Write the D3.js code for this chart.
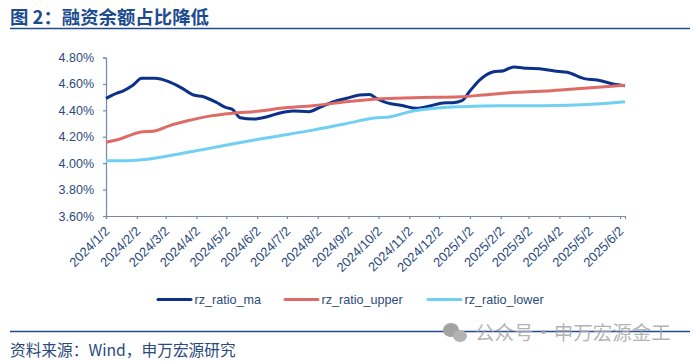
<!DOCTYPE html>
<html>
<head>
<meta charset="utf-8">
<script src="https://cdn.jsdelivr.net/npm/d3@7/dist/d3.min.js"></script>
<style>
  html, body { margin: 0; padding: 0; background: #fff; }
  svg { display: block; }
  text { font-family: "Liberation Sans", Arial, sans-serif; }
  .cjk { font-family: "Noto Sans CJK SC", "Liberation Sans", sans-serif; }
</style>
</head>
<body>
<div id="chart"></div>
<script>
const maDates = ["2024-01-02","2024-01-13","2024-01-19","2024-01-29","2024-02-07","2024-02-20","2024-03-05","2024-03-17","2024-03-30","2024-04-09","2024-04-22","2024-05-02","2024-05-08","2024-05-16","2024-05-29","2024-06-12","2024-06-25","2024-07-08","2024-07-24","2024-08-04","2024-08-18","2024-08-31","2024-09-13","2024-09-23","2024-09-30","2024-10-10","2024-10-27","2024-11-09","2024-11-23","2024-12-06","2024-12-16","2024-12-25","2025-01-02","2025-01-12","2025-01-25","2025-02-05","2025-02-15","2025-03-01","2025-03-13","2025-03-28","2025-04-10","2025-04-27","2025-05-10","2025-05-26","2025-06-07"];
const maValues = [4.49,4.53,4.546,4.59,4.642,4.642,4.617,4.574,4.516,4.503,4.46,4.42,4.408,4.344,4.334,4.352,4.38,4.395,4.39,4.423,4.465,4.491,4.516,4.52,4.491,4.458,4.435,4.415,4.433,4.456,4.458,4.473,4.546,4.63,4.69,4.70,4.728,4.718,4.715,4.698,4.688,4.64,4.63,4.60,4.586];

const upperDates = ["2024-01-02","2024-01-16","2024-02-05","2024-02-20","2024-03-06","2024-03-23","2024-04-18","2024-05-08","2024-06-05","2024-06-25","2024-07-28","2024-08-31","2024-09-30","2024-11-06","2024-12-24","2025-01-15","2025-02-18","2025-03-25","2025-04-27","2025-06-07"];
const upperValues = [4.158,4.183,4.234,4.244,4.284,4.319,4.36,4.378,4.395,4.415,4.435,4.465,4.486,4.496,4.503,4.516,4.537,4.549,4.567,4.59];

const lowerDates = ["2024-01-02","2024-01-23","2024-02-22","2024-03-19","2024-04-15","2024-05-08","2024-06-05","2024-06-25","2024-07-28","2024-08-31","2024-09-30","2024-10-10","2024-11-06","2024-12-03","2024-12-24","2025-01-15","2025-03-07","2025-04-10","2025-05-13","2025-06-07"];
const lowerValues = [4.019,4.019,4.04,4.075,4.112,4.145,4.183,4.208,4.25,4.30,4.344,4.347,4.395,4.42,4.428,4.433,4.435,4.438,4.45,4.465];

const tickDates = ["2024-01-02","2024-02-02","2024-03-02","2024-04-02","2024-05-02","2024-06-02","2024-07-02","2024-08-02","2024-09-02","2024-10-02","2024-11-02","2024-12-02","2025-01-02","2025-02-02","2025-03-02","2025-04-02","2025-05-02","2025-06-02"];
const yTicks = [3.6, 3.8, 4.0, 4.2, 4.4, 4.6, 4.8];

const seriesNames = ["rz_ratio_ma", "rz_ratio_upper", "rz_ratio_lower"];
const seriesColors = ["#0b3189", "#dd6b66", "#6fd0f2"];

const width = 694, height = 361;
const parseDate = d3.timeParse("%Y-%m-%d");
const inkColor = "#2b4a7c", axisColor = "#7488ab", ruleColor = "#1f4a8f";

const svg = d3.select("#chart").append("svg")
  .attr("width", width)
  .attr("height", height);

// header and footer
svg.append("text").attr("class", "cjk")
  .attr("x", 10).attr("y", 24)
  .attr("fill", "#1d4b8f")
  .style("font-size", "18.4px").style("font-weight", "700")
  .text("图 2：融资余额占比降低");

svg.append("line")
  .attr("x1", 10).attr("x2", 690).attr("y1", 28.5).attr("y2", 28.5)
  .attr("stroke", ruleColor).attr("stroke-width", 1.5);

svg.append("line")
  .attr("x1", 10).attr("x2", 690).attr("y1", 331.5).attr("y2", 331.5)
  .attr("stroke", ruleColor).attr("stroke-width", 1.5);

svg.append("text").attr("class", "cjk")
  .attr("x", 10).attr("y", 356)
  .attr("fill", inkColor)
  .style("font-size", "15.7px")
  .text("资料来源：Wind，申万宏源研究");

// scales
const x = d3.scaleTime()
  .domain([parseDate("2024-01-02"), parseDate("2025-06-07")])
  .range([106, 625]);

const y = d3.scaleLinear()
  .domain([3.6, 4.8])
  .range([216, 57.5]);

// axes
const yAxis = svg.append("g")
  .attr("transform", "translate(106,0)")
  .call(d3.axisLeft(y).tickValues(yTicks).tickSize(3).tickPadding(9)
    .tickFormat(d => d.toFixed(2) + "%"));

const xAxis = svg.append("g")
  .attr("transform", "translate(0,216)")
  .call(d3.axisBottom(x).tickValues(tickDates.map(parseDate)).tickSize(3)
    .tickFormat(d3.timeFormat("%Y/%-m/%-d")));

xAxis.selectAll("text")
  .attr("text-anchor", "end")
  .attr("transform", "translate(1,13) rotate(-45)")
  .attr("x", 0).attr("y", 0).attr("dy", "0.32em");

[xAxis, yAxis].forEach(a => {
  a.selectAll(".domain, line").attr("stroke", axisColor).attr("stroke-width", 1.2);
  a.selectAll("text").attr("fill", inkColor).style("font-size", "12.5px")
    .style("font-family", '"Liberation Sans", Arial, sans-serif');
});
xAxis.selectAll("text").style("font-size", "13px");

// lines
const line = d3.line()
  .x(d => x(d.date))
  .y(d => y(d.value))
  .curve(d3.curveMonotoneX);

const toPoints = (dates, values) => dates.map((d, i) => ({ date: parseDate(d), value: values[i] }));

[[maDates, maValues, 0], [lowerDates, lowerValues, 2], [upperDates, upperValues, 1]].forEach(([dates, values, i]) => {
  svg.append("path")
    .datum(toPoints(dates, values))
    .attr("fill", "none")
    .attr("stroke", seriesColors[i])
    .attr("stroke-width", 3)
    .attr("stroke-linejoin", "round")
    .attr("d", line);
});

// legend
const legendX = [158, 285, 428];
seriesNames.forEach((name, i) => {
  svg.append("line")
    .attr("x1", legendX[i]).attr("x2", legendX[i] + 33)
    .attr("y1", 299.5).attr("y2", 299.5)
    .attr("stroke", seriesColors[i]).attr("stroke-width", 3)
    .attr("stroke-linecap", "round");
  svg.append("text")
    .attr("x", legendX[i] + 36.5).attr("y", 304)
    .attr("fill", inkColor)
    .style("font-size", "12.6px")
    .text(name);
});

// watermark
const mark = svg.append("g").attr("fill", "#a3a3a3");
mark.append("ellipse").attr("cx", 451).attr("cy", 330).attr("rx", 8).attr("ry", 7);
mark.append("ellipse").attr("cx", 460).attr("cy", 336).attr("rx", 7).attr("ry", 6).attr("fill", "#b3b3b3");
svg.append("text").attr("class", "cjk")
  .attr("x", 475).attr("y", 340)
  .attr("fill", "#a6a6a6").attr("fill-opacity", 0.85)
  .style("font-size", "19.5px")
  .style("word-spacing", "-4px")
  .text("公众号 · 申万宏源金工");
</script>
</body>
</html>
